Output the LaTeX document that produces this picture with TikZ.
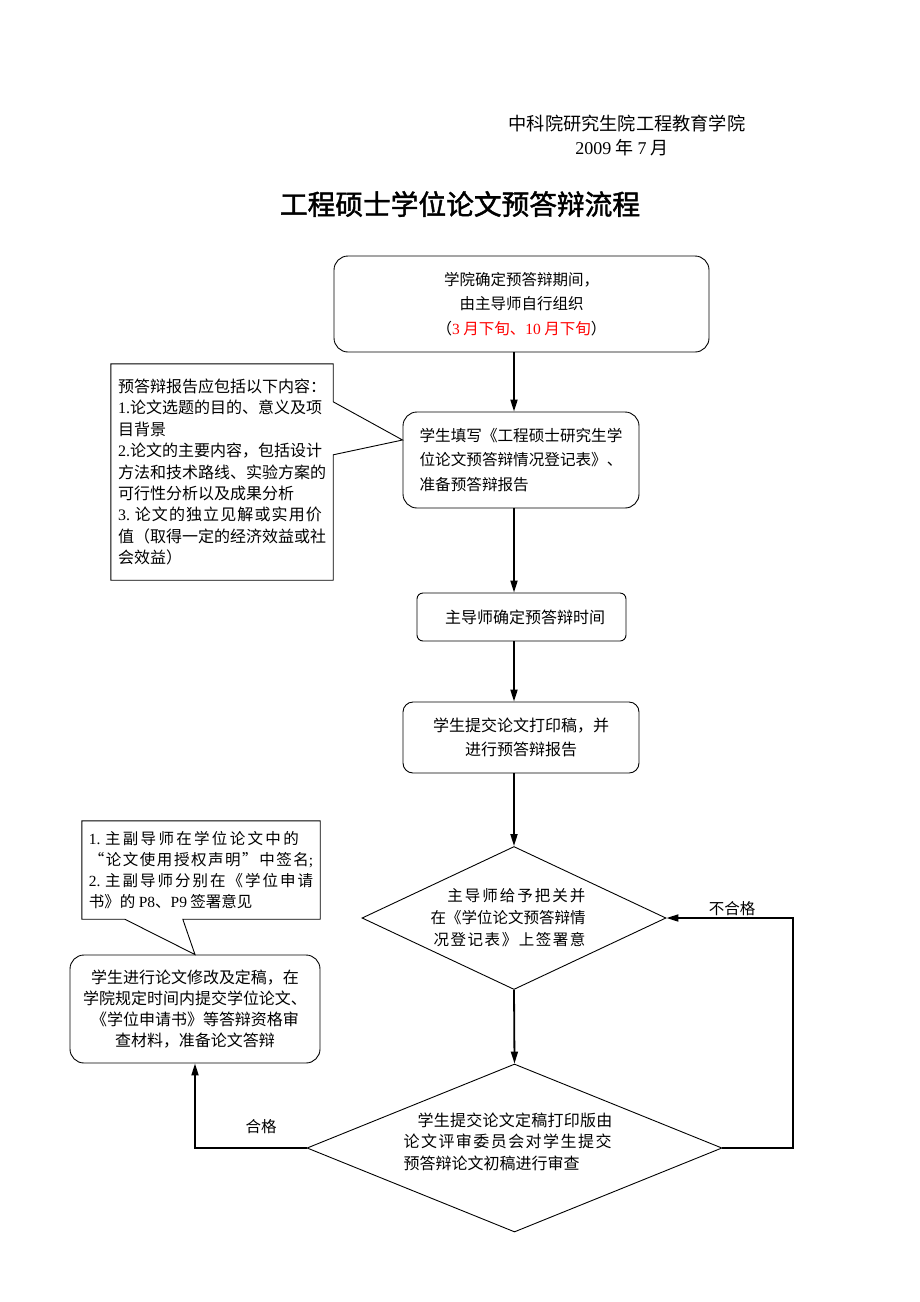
\documentclass[tikz,border=0pt]{standalone}
\usepackage{fontspec}
\setmainfont{Noto Sans CJK SC}
\newfontfamily\numfont{Liberation Serif}
\newfontfamily\titlefont[FakeBold=1.6]{Noto Sans CJK SC}
\usetikzlibrary{shapes.geometric,arrows.meta,calc}
\definecolor{redtext}{RGB}{255,0,0}
\begin{document}
\begin{tikzpicture}[x=1pt,y=-1pt,
  font=\fontsize{15.5}{21.5}\selectfont,
  box/.style={draw, line width=0.9pt, rounded corners=14pt, inner sep=0pt},
  dia/.style={diamond, draw, line width=0.9pt, inner sep=0pt},
  plain/.style={inner sep=0pt},
  outline/.style={draw, line width=0.9pt, line join=miter},
  conn/.style={line width=1.8pt, -{Triangle[length=12pt,width=7pt]}}]
\useasboundingbox[fill=white] (0,0) rectangle (920,1302);

% header
\node[plain, font=\fontsize{18.2}{20}\selectfont] (h1) at (627,124) {中科院研究生院工程教育学院};
\node[plain, font=\fontsize{18}{20}\selectfont] (h2) at (622,148) {{\numfont 2009} 年 {\numfont 7} 月};
\node[plain] (title) at (460,204) {\titlefont\fontsize{27.7}{30}\selectfont 工程硕士学位论文预答辩流程};

\coordinate (col) at (514,0);

% main boxes
\node[box, minimum width=375pt, minimum height=96pt, align=center, font=\fontsize{15.5}{24.5}\selectfont] (b1) at (521.5,304)
  {学院确定预答辩期间，\\由主导师自行组织\\（{\color{redtext}{\numfont 3} 月下旬、{\numfont 10} 月下旬}）};
\node[box, minimum width=236pt, minimum height=96pt, align=left, font=\fontsize{15.6}{24.5}\selectfont] (b2) at (521,460)
  {学生填写《工程硕士研究生学\\位论文预答辩情况登记表》、\\准备预答辩报告};
\node[box, rounded corners=6pt, minimum width=209pt, minimum height=48pt, font=\fontsize{16}{20}\selectfont] (b3) at (521.5,617)
  {\hspace{7pt}主导师确定预答辩时间};
\node[box, rounded corners=10pt, minimum width=236pt, minimum height=71pt, align=center, font=\fontsize{16}{24}\selectfont] (b4) at (521,737.5)
  {学生提交论文打印稿，并\\进行预答辩报告};

% decisions
\node[dia, minimum width=304pt, minimum height=143pt] (d1) at (514,918) {};
\node[plain, align=right, font=\fontsize{15.5}{22}\selectfont] (t1) at (508,918)
  {{\addfontfeature{LetterSpace=13}主导师给予把关并}\\在《学位论文预答辩情\\{\addfontfeature{LetterSpace=10}况登记表》上签署意}};
\node[dia, minimum width=415pt, minimum height=168pt] (d2) at (514.5,1148) {};
\node[plain, align=left, font=\fontsize{16}{21.5}\selectfont] (t2) at (508,1141.5)
  {\hspace{14pt}{\addfontfeature{LetterSpace=1.5}学生提交论文定稿打印版由}\\{\addfontfeature{LetterSpace=9}论文评审委员会对学生提交}\\预答辩论文初稿进行审查};

% left box
\node[box, minimum width=250pt, minimum height=108pt, align=center, font=\fontsize{16}{21.3}\selectfont] (b5) at (195,1009)
  {学生进行论文修改及定稿，在\\学院规定时间内提交学位论文、\\《学位申请书》等答辩资格审\\查材料，准备论文答辩};

% callout 1
\node[plain, minimum width=222pt, minimum height=216pt, align=left, font=\fontsize{16}{21.4}\selectfont] (c1) at (222,472)
  {预答辩报告应包括以下内容：\\{\numfont 1.}论文选题的目的、意义及项\\目背景\\{\numfont 2.}论文的主要内容，包括设计\\方法和技术路线、实验方案的\\可行性分析以及成果分析\\{\numfont 3.} {\addfontfeature{LetterSpace=7}论文的独立见解或实用价}\\值（取得一定的经济效益或社\\会效益）};
\draw[outline] (c1.north west) -- (c1.north east) -- ($(c1.north east)+(0,38)$)
  -- ($(b2.west)+(0,-20)$) -- ($(c1.north east)+(0,91)$) -- (c1.south east) -- (c1.south west) -- cycle;

% callout 2
\node[plain, minimum width=238pt, minimum height=98pt, align=left, font=\fontsize{15.5}{21}\selectfont] (c2) at (201,870)
  {{\numfont 1.} {\addfontfeature{LetterSpace=15}主副导师在学位论文中的}\\{\addfontfeature{LetterSpace=10}“论文使用授权声明”中签名}{\numfont ;}\\{\numfont 2.} {\addfontfeature{LetterSpace=13}主副导师分别在《学位申请}\\书》的 {\numfont P8}、{\numfont P9} 签署意见};
\draw[outline] (c2.north west) -- (c2.north east) -- (c2.south east) -- ($(c2.south west)+(101,0)$)
  -- (b5.north) -- ($(c2.south west)+(43,0)$) -- (c2.south west) -- cycle;

% connectors
\draw[conn] (b1.south -| col) -- (b2.north -| col);
\draw[conn] (b2.south -| col) -- (b3.north -| col);
\draw[conn] (b3.south -| col) -- (b4.north -| col);
\draw[conn] (b4.south -| col) -- (d1.north);
\draw[conn] (d1.south) -- (d2.north);
\coordinate (rloop) at (793,1147);
\draw[conn] (d2.east) -- (d2.east -| rloop) -- (d1.east -| rloop) -- (d1.east);
\draw[conn] (d2.west) -- (d2.west -| b5.south) -- (b5.south);

% labels
\node[plain] (lno) at (732,909) {不合格};
\node[plain] (lyes) at (261,1127) {合格};
\end{tikzpicture}
\end{document}
